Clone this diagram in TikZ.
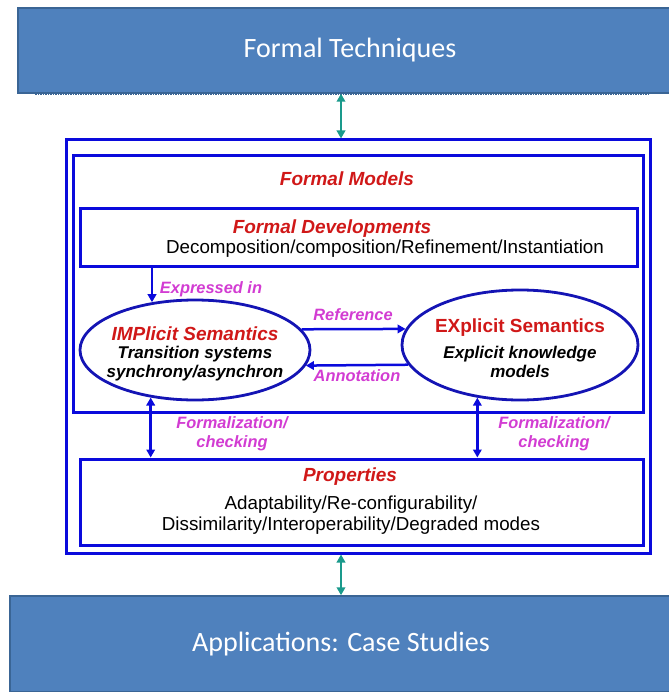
\documentclass[tikz,border=0pt]{standalone}
\usepackage{fontspec}
\setmainfont{Liberation Sans}
\newfontfamily\calibri{Carlito}
\usetikzlibrary{arrows.meta}
\definecolor{bannerfill}{HTML}{4F81BD}
\definecolor{bannerline}{HTML}{3A6595}
\definecolor{boxblue}{HTML}{0A0ADC}
\definecolor{ellblue}{HTML}{1414B4}
\definecolor{titlered}{HTML}{D01818}
\definecolor{labelpink}{HTML}{D23CD2}
\definecolor{linkteal}{HTML}{1A9A8C}
\tikzset{
  banner/.style={draw=bannerline, line width=1.5pt, fill=bannerfill, text=white,
    font=\calibri\fontsize{28}{32}\selectfont, inner sep=0pt},
  frame/.style={draw=boxblue, line width=3pt, inner sep=0pt},
  semell/.style={ellipse, draw=ellblue, line width=2.8pt, inner sep=0pt},
  title/.style={text=titlered, font=\bfseries\itshape\fontsize{19}{22}\selectfont},
  body/.style={align=center, font=\fontsize{18.8}{21}\selectfont},
  ellbody/.style={align=center, font=\bfseries\itshape\fontsize{17}{19}\selectfont},
  tag/.style={text=labelpink, align=center, font=\bfseries\itshape\fontsize{16.4}{19.5}\selectfont},
  link/.style={draw=boxblue, line width=2.5pt, -{Triangle[length=8pt,width=8.5pt]}},
  twolink/.style={draw=boxblue, line width=2.5pt, {Triangle[length=8pt,width=8.5pt]}-{Triangle[length=8pt,width=8.5pt]}},
  tealink/.style={draw=linkteal, line width=2.5pt, {Triangle[length=8pt,width=8.5pt]}-{Triangle[length=8pt,width=8.5pt]}}
}
\usetikzlibrary{shapes.geometric}
\begin{document}
\begin{tikzpicture}[x=1pt,y=1pt]
\useasboundingbox (0,0) rectangle (668,-692);
% banners
\node[banner, minimum width=664, minimum height=85] (tech) at (350,-50.5) {Formal Techniques};
\draw[bannerline, line width=1.5pt, densely dotted] (35,-94) -- (650,-94);
\node[banner, minimum width=662, minimum height=96] (apps) at (341,-644) {Applications: Case Studies};
% blue frames
\node[frame, minimum width=584, minimum height=413] (outer) at (358,-346.5) {};
\node[frame, minimum width=570, minimum height=256] (models) at (358,-284) {};
\node[frame, minimum width=557, minimum height=57] (devel) at (358.5,-237.5) {};
\node[frame, minimum width=563, minimum height=86] (props) at (361.5,-502) {};
% semantics
\node[semell, minimum width=230, minimum height=100] (impl) at (195,-350) {};
\node[semell, minimum width=236, minimum height=110] (expl) at (520,-345) {};
% texts
\node[title] (modelsT) at (347,-179) {Formal Models};
\node[title] (develT) at (332,-229) {Formal Developments};
\node[body] (develB) at (385,-249) {Decomposition/composition/Refinement/Instantiation};
\node[title] (implT) at (195,-334) {IMPlicit Semantics};
\node[ellbody] (implB) at (195,-364) {Transition systems\\synchrony/asynchron};
\node[title, font=\bfseries\fontsize{19}{22}\selectfont] (explT) at (520,-328) {EXplicit Semantics};
\node[ellbody] (explB) at (520,-362) {Explicit knowledge\\models};
\node[title] (propsT) at (350,-477) {Properties};
\node[body] (propsB) at (351,-515) {Adaptability/Re-configurability/\\Dissimilarity/Interoperability/Degraded modes};
% connectors
\draw[tealink] (apps.north |- tech.south) -- (apps.north |- outer.north);
\draw[tealink] (apps.north |- outer.south) -- (apps.north);
\draw[link] (impl.132 |- devel.south) -- (impl.132);
\node[tag] (exprT) at (211,-289) {Expressed in};
\draw[link] (impl.11) -- (expl.172.5);
\node[tag] (refT) at (353,-315) {Reference};
\draw[link] (expl.190.3) -- (impl.352.2);
\node[tag] (annT) at (357,-376) {Annotation};
\draw[twolink] (impl.227.2) -- (impl.227.2 |- props.north);
\draw[twolink] (expl.231.5) -- (expl.231.5 |- props.north);
\node[tag] (formL) at (232,-434) {Formalization/\\checking};
\node[tag] (formR) at (554,-434) {Formalization/\\checking};
\end{tikzpicture}
\end{document}
